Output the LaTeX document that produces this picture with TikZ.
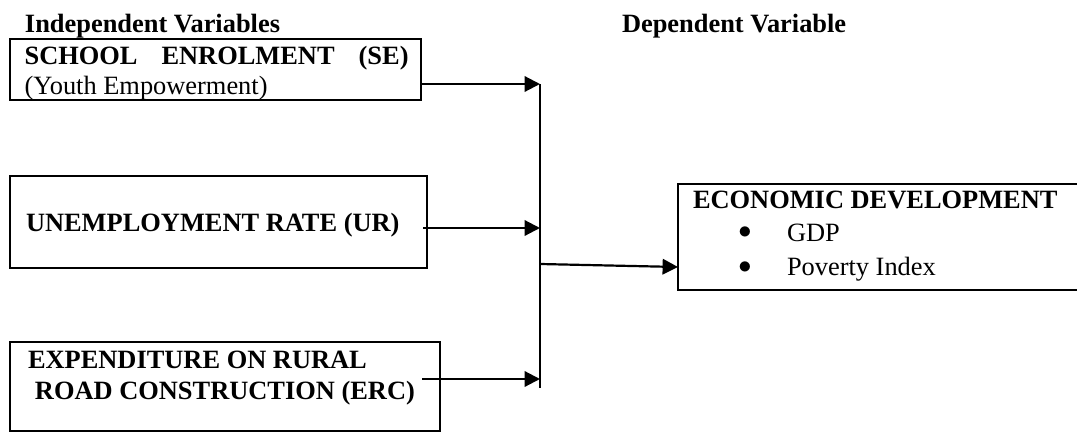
\documentclass[tikz,border=0pt]{standalone}
\usepackage{fontspec}
\setmainfont{Liberation Serif}
\usetikzlibrary{arrows.meta}
\newdimen\px \px=0.4545pt
\newcommand\twelvept{\fontsize{12pt}{14pt}\selectfont}
\begin{document}
\begin{tikzpicture}[x=0.4545pt,y=-0.4545pt,
  varbox/.style={draw, line width=1pt, rectangle, inner sep=0pt, outer sep=0pt},
  txt/.style={anchor=base west, inner sep=0pt, outer sep=0pt, font=\twelvept\bfseries},
  rtxt/.style={anchor=base west, inner sep=0pt, outer sep=0pt, font=\twelvept},
  bul/.style={anchor=center, inner sep=0pt, outer sep=0pt, font=\twelvept},
  link/.style={line width=1pt, -{Triangle[length=7pt,width=7pt]}},
  trunk/.style={line width=1pt}]
\useasboundingbox (0,0) rectangle (1077,432);
% headings
\node[txt] (indep) at (25,32) {Independent Variables};
\node[txt] (dep) at (622,32) {Dependent Variable};
% boxes
\node[varbox, minimum width=411\px, minimum height=61\px] (se) at (215.5,69.5) {};
\node[varbox, minimum width=417\px, minimum height=92\px] (ur) at (218.5,222) {};
\node[varbox, minimum width=430\px, minimum height=89\px] (erc) at (225,386.5) {};
\node[varbox, minimum width=402\px, minimum height=106\px] (ed) at (879,237) {};
% box texts
\node[txt] (setitle) at (24.6,64) {\makebox[384\px][s]{SCHOOL\hfill ENROLMENT\hfill (SE)}};
\node[rtxt] (sesub) at (24.6,94) {(Youth Empowerment)};
\node[txt] (urtitle) at (26,231) {UNEMPLOYMENT RATE (UR)};
\node[txt] (erc1) at (28,368) {EXPENDITURE ON RURAL};
\node[txt] (erc2) at (35,399) {ROAD CONSTRUCTION (ERC)};
\node[txt] (edtitle) at (693,208) {ECONOMIC DEVELOPMENT};
\node[bul] (b1) at (745,233) {$\bullet$};
\node[rtxt] (gdp) at (787,241) {GDP};
\node[bul] (b2) at (745,268) {$\bullet$};
\node[rtxt] (pov) at (787,275) {Poverty Index};
% junction points
\coordinate (jtop) at (540,84);
\coordinate (jur) at (540,228);
\coordinate (jerc) at (540,379);
\coordinate (jbot) at (540,388);
\coordinate (jout) at (540,264);
\coordinate (urstart) at (423,228);
\coordinate (ercstart) at (422,379);
\coordinate (edin) at (0,267);
% connectors
\draw[trunk] (jtop) -- (jbot);
\draw[link] (se.east |- jtop) -- (jtop);
\draw[link] (urstart) -- (jur);
\draw[link] (ercstart) -- (jerc);
\draw[link] (jout) -- (ed.west |- edin);
\end{tikzpicture}
\end{document}
